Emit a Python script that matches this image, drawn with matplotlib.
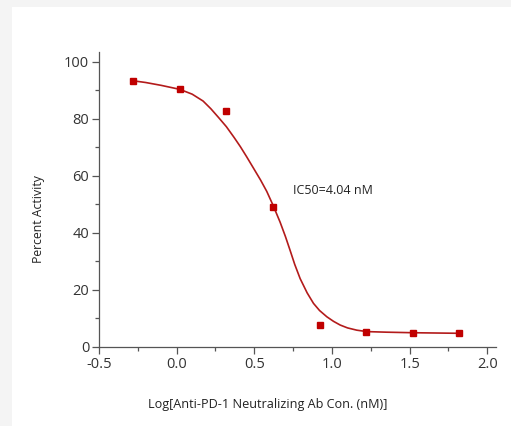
import numpy as np
import matplotlib.pyplot as plt
from matplotlib.ticker import MultipleLocator

plt.rcParams['font.family'] = ['Open Sans', 'DejaVu Sans']

# measured points
log_conc = [-0.28, 0.02, 0.32, 0.62, 0.92, 1.22, 1.52, 1.82]
activity = [93.4, 90.4, 82.7, 49.0, 7.6, 5.3, 5.0, 4.8]

# fitted curve
fit_x = [-0.28, -0.20, -0.10, 0.02, 0.10, 0.17, 0.22, 0.27, 0.32, 0.37, 0.41,
         0.45, 0.494, 0.54, 0.58, 0.62, 0.666, 0.70, 0.731, 0.76, 0.795, 0.84,
         0.881, 0.92, 0.967, 1.01, 1.053, 1.10, 1.16, 1.225, 1.35, 1.53, 1.68, 1.83]
fit_y = [93.4, 92.8, 91.8, 90.4, 88.7, 86.3, 83.6, 80.5, 77.3, 73.5, 70.3,
         66.8, 62.8, 58.6, 54.6, 49.8, 43.8, 38.8, 33.8, 29.0, 24.0, 19.0,
         15.3, 12.8, 10.6, 9.0, 7.7, 6.7, 5.9, 5.4, 5.2, 5.0, 4.9, 4.8]

ic50_label = "IC50=4.04 nM"

fig = plt.figure(figsize=(5.11, 4.26), dpi=100)
fig.patch.set_facecolor('#f4f4f4')
# white panel behind the chart
fig.patches.append(plt.Rectangle((12 / 511, 0), 1, 1 - 7 / 426, transform=fig.transFigure,
                                 facecolor='white', edgecolor='none', zorder=-10))

ax = fig.add_axes([99 / 511, 79 / 426, 397 / 511, 295 / 426])
ax.set_facecolor('none')

ax.plot(fit_x, fit_y, color='#b31b1b', lw=1.2, zorder=2, solid_joinstyle='round')
ax.plot(log_conc, activity, 's', color='#c00000', ms=5, zorder=3)

ax.set_xlim(-0.5, 2.056)
ax.set_ylim(0, 103.5)
ax.xaxis.set_minor_locator(MultipleLocator(0.25))
ax.yaxis.set_major_locator(MultipleLocator(20))
ax.yaxis.set_minor_locator(MultipleLocator(10))
ax.set_xticks([-0.5, 0.0, 0.5, 1.0, 1.5, 2.0])
ax.set_xticklabels(["-0.5", "0.0", "0.5", "1.0", "1.5", "2.0"])

for s in ['top', 'right']:
    ax.spines[s].set_visible(False)
for s in ['left', 'bottom']:
    ax.spines[s].set_color('#555555')
    ax.spines[s].set_linewidth(0.9)

ax.tick_params(which='major', length=5, width=0.9, color='#555555',
               labelsize=10.5, labelcolor='#333333', pad=2)
ax.tick_params(which='minor', length=3, width=0.9, color='#555555')

ax.set_xlabel("Log[Anti-PD-1 Neutralizing Ab Con. (nM)]", fontsize=9.1, color='#222222')
ax.xaxis.set_label_coords(0.424, -0.172)
ax.set_ylabel("Percent Activity", fontsize=8.8, color='#222222')
ax.yaxis.set_label_coords(-0.136, 0.434)

ax.text(0.75, 55, ic50_label, fontsize=9, color='#222222', va='center')

fig.savefig('out.png', dpi=100, facecolor=fig.get_facecolor())
